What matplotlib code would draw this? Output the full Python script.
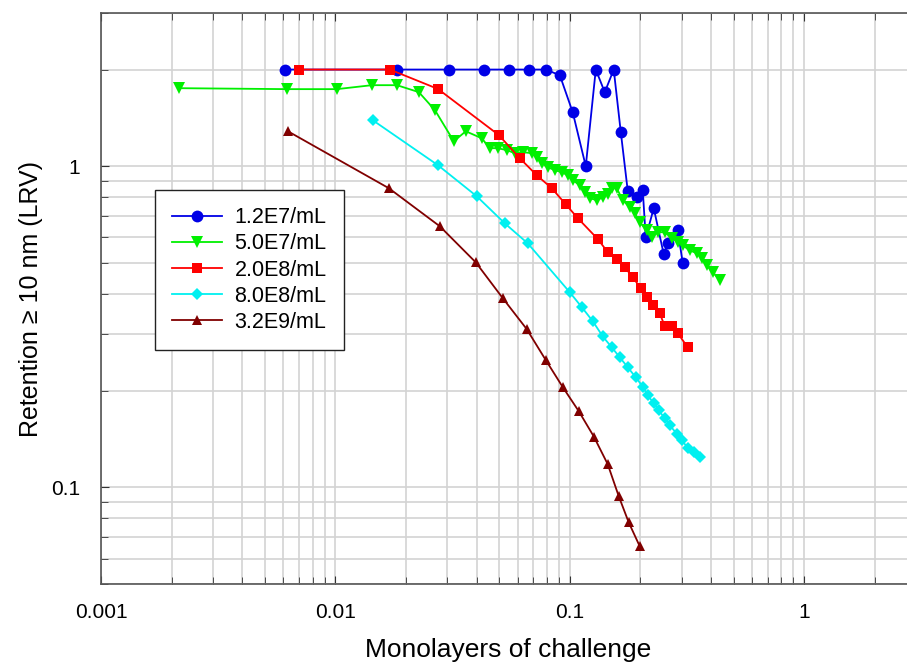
import matplotlib
matplotlib.use("Agg")
import matplotlib.pyplot as plt
from matplotlib.ticker import LogLocator, FixedLocator, FixedFormatter, NullFormatter

plt.rcParams['font.family'] = ['Liberation Sans', 'DejaVu Sans']

# --- data ---
x_12e7 = [0.00609, 0.0183, 0.0305, 0.0430, 0.0549, 0.0669, 0.0790, 0.0907, 0.1030, 0.1170,
          0.1291, 0.1410, 0.1540, 0.1650, 0.1768, 0.1931, 0.2048, 0.2109, 0.2282, 0.2517,
          0.2618, 0.2888, 0.3034]
y_12e7 = [2.0, 2.0, 2.0, 2.0, 2.0, 2.0, 2.0, 1.92, 1.47, 1.0,
          2.0, 1.70, 2.0, 1.28, 0.836, 0.80, 0.842, 0.60, 0.74, 0.532,
          0.575, 0.632, 0.499]

x_50e7 = [0.00215, 0.00621, 0.01015, 0.01431, 0.0183, 0.0227, 0.0266, 0.0320, 0.0360, 0.0421,
          0.0456, 0.0493, 0.0539, 0.0583, 0.0630, 0.0689, 0.0723, 0.0760, 0.0806, 0.0863,
          0.0925, 0.0980, 0.1030, 0.1103, 0.1159, 0.1217, 0.1304, 0.1383, 0.1452, 0.1510,
          0.1586, 0.1683, 0.1803, 0.1894, 0.1989, 0.2131, 0.2237, 0.2374, 0.2542, 0.2723,
          0.2888, 0.3034, 0.3249, 0.3480, 0.3656, 0.3840, 0.4072, 0.4362]
y_50e7 = [1.750, 1.738, 1.738, 1.788, 1.788, 1.701, 1.494, 1.196, 1.285, 1.222,
          1.138, 1.138, 1.122, 1.098, 1.106, 1.098, 1.067, 1.022, 0.993, 0.972,
          0.958, 0.937, 0.904, 0.873, 0.830, 0.795, 0.784, 0.800, 0.818, 0.854,
          0.854, 0.784, 0.745, 0.714, 0.669, 0.632, 0.601, 0.623, 0.623, 0.597,
          0.580, 0.567, 0.547, 0.536, 0.517, 0.492, 0.468, 0.442]

x_20e8 = [0.00699, 0.01708, 0.0274, 0.0498, 0.0612, 0.0723, 0.0838, 0.0961, 0.1082, 0.1317,
          0.1452, 0.1586, 0.1716, 0.1856, 0.2008, 0.2131, 0.2259, 0.2420, 0.2542, 0.2723,
          0.2888, 0.3185]
y_20e8 = [2.0, 2.0, 1.74, 1.25, 1.059, 0.937, 0.854, 0.761, 0.689, 0.593,
          0.540, 0.513, 0.485, 0.451, 0.417, 0.391, 0.369, 0.348, 0.318, 0.318,
          0.302, 0.273]

x_80e8 = [0.01445, 0.0274, 0.0401, 0.0528, 0.0662, 0.1000, 0.1125, 0.1254, 0.1383, 0.1510,
          0.1634, 0.1768, 0.1912, 0.2048, 0.2151, 0.2282, 0.2396, 0.2542, 0.2670, 0.2860,
          0.3004, 0.3185, 0.3380, 0.3584]
y_80e8 = [1.39, 1.007, 0.806, 0.664, 0.575, 0.405, 0.364, 0.329, 0.295, 0.273,
          0.254, 0.2365, 0.220, 0.206, 0.1935, 0.1827, 0.1738, 0.164, 0.156, 0.147,
          0.140, 0.133, 0.1285, 0.124]

x_32e9 = [0.00627, 0.01691, 0.0279, 0.0397, 0.0518, 0.0655, 0.0790, 0.0934, 0.1093, 0.1266,
          0.1452, 0.1618, 0.1784, 0.1989]
y_32e9 = [1.285, 0.854, 0.650, 0.502, 0.388, 0.311, 0.249, 0.205, 0.1725, 0.144,
          0.118, 0.0938, 0.0778, 0.0655]

labels = ['1.2E7/mL', '5.0E7/mL', '2.0E8/mL', '8.0E8/mL', '3.2E9/mL']
xticks = [0.001, 0.01, 0.1, 1]
xtick_labels = ['0.001', '0.01', '0.1', '1']
yticks = [0.1, 1]
ytick_labels = ['0.1', '1']

fig = plt.figure(figsize=(9.07, 6.67), dpi=100)
ax = fig.add_axes([0.1114, 0.1244, 0.8985, 0.8561])

series = [
    (x_12e7, y_12e7, '#0000e6', 'o', 8.5),
    (x_50e7, y_50e7, '#00f000', 'v', 8.5),
    (x_20e8, y_20e8, '#ff0000', 's', 7),
    (x_80e8, y_80e8, '#00f0f0', 'D', 6.5),
    (x_32e9, y_32e9, '#800000', '^', 7.5),
]
for (xs, ys, col, mk, ms), lab in zip(series, labels):
    ax.plot(xs, ys, color=col, marker=mk, markersize=ms, linewidth=1.3,
            markeredgewidth=0, label=lab, zorder=3)

ax.set_xscale('log')
ax.set_yscale('log')
ax.set_xlim(0.001, 3)
ax.set_ylim(0.05, 3)

ax.xaxis.set_major_locator(FixedLocator(xticks))
ax.xaxis.set_major_formatter(FixedFormatter(xtick_labels))
ax.xaxis.set_minor_locator(LogLocator(base=10, subs=range(2, 10)))
ax.xaxis.set_minor_formatter(NullFormatter())
ax.yaxis.set_major_locator(FixedLocator(yticks))
ax.yaxis.set_major_formatter(FixedFormatter(ytick_labels))
ax.yaxis.set_minor_locator(LogLocator(base=10, subs=range(2, 10)))
ax.yaxis.set_minor_formatter(NullFormatter())

ax.grid(True, which='both', color='#d3d3d3', linewidth=1.2, zorder=0)
ax.set_axisbelow(True)
ax.tick_params(which='both', direction='in', top=True, right=False, labelsize=15,
               color='#333333')
ax.tick_params(axis='x', which='both', pad=14)
ax.tick_params(axis='y', which='both', pad=15)
ax.tick_params(which='major', length=6)
ax.tick_params(which='minor', length=5)
for s in ax.spines.values():
    s.set_color('#555555')
    s.set_linewidth(1.2)

ax.set_xlabel('Monolayers of challenge', fontsize=19, labelpad=11)
ax.set_ylabel('Retention \u2265 10 nm (LRV)', fontsize=18, labelpad=6)

leg = ax.legend(loc='upper left', bbox_to_anchor=(0.066, 0.690), fontsize=15.5,
                frameon=True, fancybox=False, edgecolor='#222222', framealpha=1,
                handlelength=2.3, handletextpad=0.6, labelspacing=0.24,
                borderpad=0.8, borderaxespad=0)
leg.get_frame().set_linewidth(1.0)

fig.savefig('out.png', dpi=100)
